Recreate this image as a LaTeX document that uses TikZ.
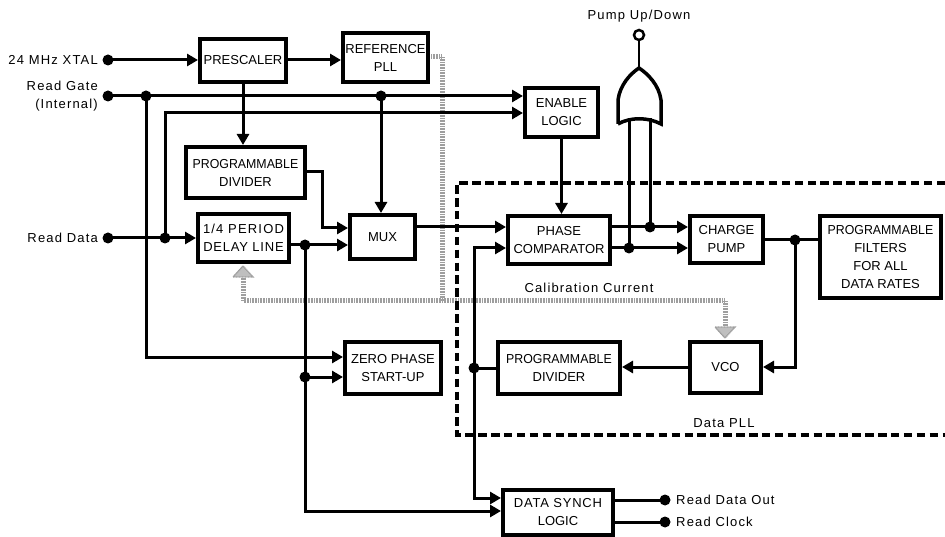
\documentclass[tikz,border=0pt]{standalone}
\usepackage{fontspec}
\setmainfont{Liberation Sans}
\newfontfamily\labfont[LetterSpace=9]{Liberation Sans}
\newfontfamily\capsfont[LetterSpace=6]{Liberation Sans}
\newfontfamily\narrowfont[FakeStretch=0.95]{Liberation Sans}
\usetikzlibrary{arrows.meta}
\tikzset{
  x=1pt,y=-1pt,
  wire/.style={line width=3pt,-{Triangle[length=11pt,width=12pt]}},
  plain/.style={line width=3pt},
  calib/.style={line width=5pt,draw=black!38,dash pattern=on 1pt off 0.6pt},
  calibtip/.style={draw=black!38,line width=1.4pt,dash pattern=on 1pt off 0.5pt},
  bx/.style={draw=black,line width=4pt,fill=white,align=center,inner sep=0pt,font=\fontsize{13}{18}\selectfont},
  dot/.style={circle,fill=black,inner sep=0pt,minimum size=11pt,outer sep=0pt},
  lab/.style={inner sep=0pt,align=right,font=\fontsize{13}{18}\selectfont\labfont},
  frame/.style={line width=4.5pt,dash pattern=on 8.5pt off 4.4pt},
}
\newcommand{\bxnode}[6]{%
  \pgfmathsetmacro{\bxw}{#4-#2-4}\pgfmathsetmacro{\bxh}{#5-#3-4}%
  \pgfmathsetmacro{\bxx}{(#2+#4)/2}\pgfmathsetmacro{\bxy}{(#3+#5)/2}%
  \node[bx,minimum width=\bxw pt,minimum height=\bxh pt] (#1) at (\bxx,\bxy) {#6};}
\begin{document}
\begin{tikzpicture}
\useasboundingbox (0,0) rectangle (945,537);
% calibration path (gray)
\coordinate (cs) at (431,57);
\coordinate (cc) at (442,57);
\coordinate (cj) at (442,301);
\coordinate (cl) at (243,301);
\coordinate (cr) at (725,301);
\coordinate (tl) at (243,276);
\coordinate (tr) at (725,328);
\coordinate (tlp) at (243,266);
\coordinate (trp) at (725,338);
\draw[calib] (cs) -- (cc) -- (cj);
\draw[calib] (tl) -- (cl) -- (cr) -- (tr);
\draw[calibtip,fill=black!25] (tlp) -- (233,277) -- (253,277) -- cycle;
\draw[calibtip,fill=black!25] (trp) -- (715,327) -- (735,327) -- cycle;
% data PLL frame
\coordinate (fa) at (945,183);
\coordinate (fb) at (457,183);
\coordinate (fc) at (457,435);
\coordinate (fd) at (945,435);
\draw[frame] (fa) -- (fb) -- (fc) -- (fd);
% blocks
\bxnode{pre}{198}{37}{288}{84}{PRESCALER}
\bxnode{ref}{341}{31}{430}{84}{REFERENCE\\PLL}
\bxnode{ena}{523}{86}{600}{139}{ENABLE\\LOGIC}
\bxnode{div}{184}{145}{307}{200}{{\narrowfont PROGRAMMABLE}\\DIVIDER}
\bxnode{dly}{196}{212}{291}{264}{{\labfont 1/4 PERIOD}\\{\capsfont DELAY LINE}}
\bxnode{mux}{348}{213}{417}{261}{MUX}
\bxnode{pc}{506}{214}{612}{266}{PHASE\\COMPARATOR}
\bxnode{cp}{688}{214}{765}{265}{CHARGE\\PUMP}
\bxnode{fil}{818}{214}{943}{300}{{\narrowfont PROGRAMMABLE}\\FILTERS\\FOR ALL\\DATA RATES}
\bxnode{zp}{343}{340}{443}{396}{ZERO PHASE\\START-UP}
\bxnode{dv2}{496}{340}{622}{396}{{\narrowfont PROGRAMMABLE}\\DIVIDER}
\bxnode{vco}{688}{340}{763}{395}{VCO}
\bxnode{syn}{501}{488}{615}{537}{{\capsfont DATA SYNCH}\\LOGIC}
% terminals and junctions
\node[dot] (xt) at (108,60) {};
\node[dot] (rg) at (108,96) {};
\node[dot] (rd) at (108,238) {};
\node[dot] (j1) at (146,96) {};
\node[dot] (j2) at (381,96) {};
\node[dot] (j3) at (165,238) {};
\node[dot] (j4) at (305,245) {};
\node[dot] (j5) at (305,377) {};
\node[dot] (j6) at (474,368) {};
\node[dot] (j7) at (650,227) {};
\node[dot] (j8) at (629,248) {};
\node[dot] (j9) at (795,240) {};
\node[dot] (o1) at (665,500) {};
\node[dot] (o2) at (665,522) {};
% labels
\node[lab,anchor=east] (l1) at (98,60) {24 MHz XTAL};
\node[lab,anchor=east] (l2) at (98,96) {Read Gate\\(Internal)};
\node[lab,anchor=east] (l3) at (98,238) {Read Data};
\node[lab] (l4) at (639,16) {Pump Up/Down};
\node[lab] (l5) at (589,288) {Calibration Current};
\node[lab] (l6) at (724,423) {Data PLL};
\node[lab,anchor=west] (l7) at (676,500) {Read Data Out};
\node[lab,anchor=west] (l8) at (676,522) {Read Clock};
% connectors
\draw[wire] (xt.center) -- (xt -| pre.west);
\draw[wire] (pre.east |- xt) -- (ref.west |- xt);
\draw[wire] (rg.center) -- (rg -| ena.west);
\draw[wire] (j2.center) -- (j2 |- mux.north);
\draw[wire] (j1.center) |- (zp.west |- 0,357);
\draw[wire] (rd.center) -- (rd -| dly.west);
\draw[wire] (j3.center) |- (ena.west |- 0,113);
\draw[wire] (243,0 |- pre.south) -- (243,0 |- div.north);
\draw[wire] (div.east |- 0,172) -| (322,228) -- (mux.west |- 0,228);
\draw[wire] (dly.east |- j4) -- (mux.west |- j4);
\draw[wire] (j4.center) |- (syn.west |- 0,511);
\draw[wire] (j5.center) -- (zp.west |- j5);
\draw[wire] (mux.east |- 0,227) -- (pc.west |- 0,227);
\draw[wire] (j6.center) |- (pc.west |- 0,248);
\draw[wire] (j6.center) |- (syn.west |- 0,498);
\draw[wire] (ena.south) -- (ena.south |- pc.north);
\draw[wire] (pc.east |- j7) -- (cp.west |- j7);
\draw[wire] (pc.east |- j8) -- (cp.west |- j8);
\draw[plain] (cp.east |- j9) -- (fil.west |- j9);
\draw[wire] (j9.center) |- (vco.east |- 0,367);
\draw[wire] (vco.west |- 0,367) -- (dv2.east |- 0,367);
\draw[plain] (dv2.west |- j6) -- (j6.center);
\draw[plain] (syn.east |- o1) -- (o1.center);
\draw[plain] (syn.east |- o2) -- (o2.center);
% OR gate
\coordinate (orl) at (618,124);
\coordinate (orr) at (661,124);
\coordinate (ort) at (639,68);
\node[circle,draw=black,line width=2.5pt,fill=white,minimum size=10pt,inner sep=0pt] (bub) at (639,35) {};
\draw[line width=2.5pt] (bub) -- (ort);
\draw[line width=3.5pt,line join=miter] (orl) -- (618,100) .. controls (620,85) and (630,74) .. (ort) .. controls (648,74) and (659,85) .. (661,100) -- (orr) .. controls (648,117) and (630,117) .. (orl);
\draw[plain] (j7.center) -- (650,118);
\draw[plain] (j8.center) -- (629,118);
\end{tikzpicture}
\end{document}
